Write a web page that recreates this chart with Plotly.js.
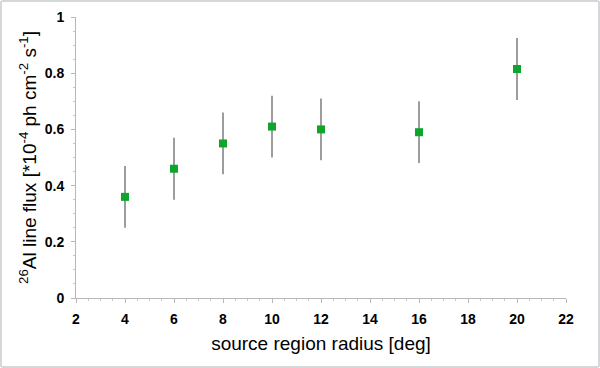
<!DOCTYPE html>
<html>
<head>
<meta charset="utf-8">
<script src="https://cdn.plot.ly/plotly-3.0.1.min.js"></script>
<style>
  html, body { margin: 0; padding: 0; background: #fff; }
  #plot { width: 600px; height: 368px; box-sizing: border-box; border: 2px solid #d4d8d8; border-radius: 3px; }
</style>
</head>
<body>
<div id="plot"></div>
<script>
// source region radius [deg] and measured 26Al flux
var radius = [4, 6, 8, 10, 12, 16, 20];
var flux = [0.36, 0.46, 0.55, 0.61, 0.60, 0.59, 0.815];
var fluxErr = [0.11, 0.11, 0.11, 0.11, 0.11, 0.11, 0.11];

// tick labels
var xTicks = [2, 4, 6, 8, 10, 12, 14, 16, 18, 20, 22];
var yTicks = [0, 0.2, 0.4, 0.6, 0.8, 1];

var trace1 = {
    x: radius,
    y: flux,
    mode: "markers",
    type: "scatter",
    marker: {symbol: "square", size: 8, color: "#0ea52c"},
    error_y: {type: "data", array: fluxErr, visible: true, color: "#858585", thickness: 1.6, width: 0},
    showlegend: false
}

var layout = {
    width: 596,
    height: 364,
    margin: {l: 74, r: 32, t: 15, b: 68},
    paper_bgcolor: "#fff",
    plot_bgcolor: "#fff",
    font: {family: "Liberation Sans, Arial, sans-serif", color: "#000"},
    xaxis: {
        range: [2, 22],
        tickvals: xTicks,
        ticktext: xTicks.map(v => "<b>" + v + "</b>"),
        ticks: "outside", ticklen: 4, tickcolor: "#b8b8b8",
        minor: {dtick: 0.5, ticks: "outside", ticklen: 2, tickcolor: "#c8c8c8"},
        showgrid: false, zeroline: false,
        showline: true, linecolor: "#b8b8b8", linewidth: 1,
        tickfont: {size: 14},
        ticklabelstandoff: 4,
        title: {text: "source region radius [deg]", font: {size: 19}, standoff: 10}
    },
    yaxis: {
        range: [0, 1],
        tickvals: yTicks,
        ticktext: yTicks.map(v => "<b>" + v + "</b>"),
        ticks: "outside", ticklen: 4, tickcolor: "#b8b8b8",
        minor: {dtick: 0.05, ticks: "outside", ticklen: 2, tickcolor: "#c8c8c8"},
        showgrid: false, zeroline: false,
        showline: true, linecolor: "#b8b8b8", linewidth: 1,
        tickfont: {size: 14},
        ticklabelstandoff: 4,
        title: {text: "<sup>26</sup>Al line flux [*10<sup>-4</sup> ph cm<sup>-2</sup> s<sup>-1</sup>]", font: {size: 19}, standoff: 3}
    }
}

Plotly.newPlot("plot", [trace1], layout, {displayModeBar: false, staticPlot: true});
</script>
</body>
</html>
